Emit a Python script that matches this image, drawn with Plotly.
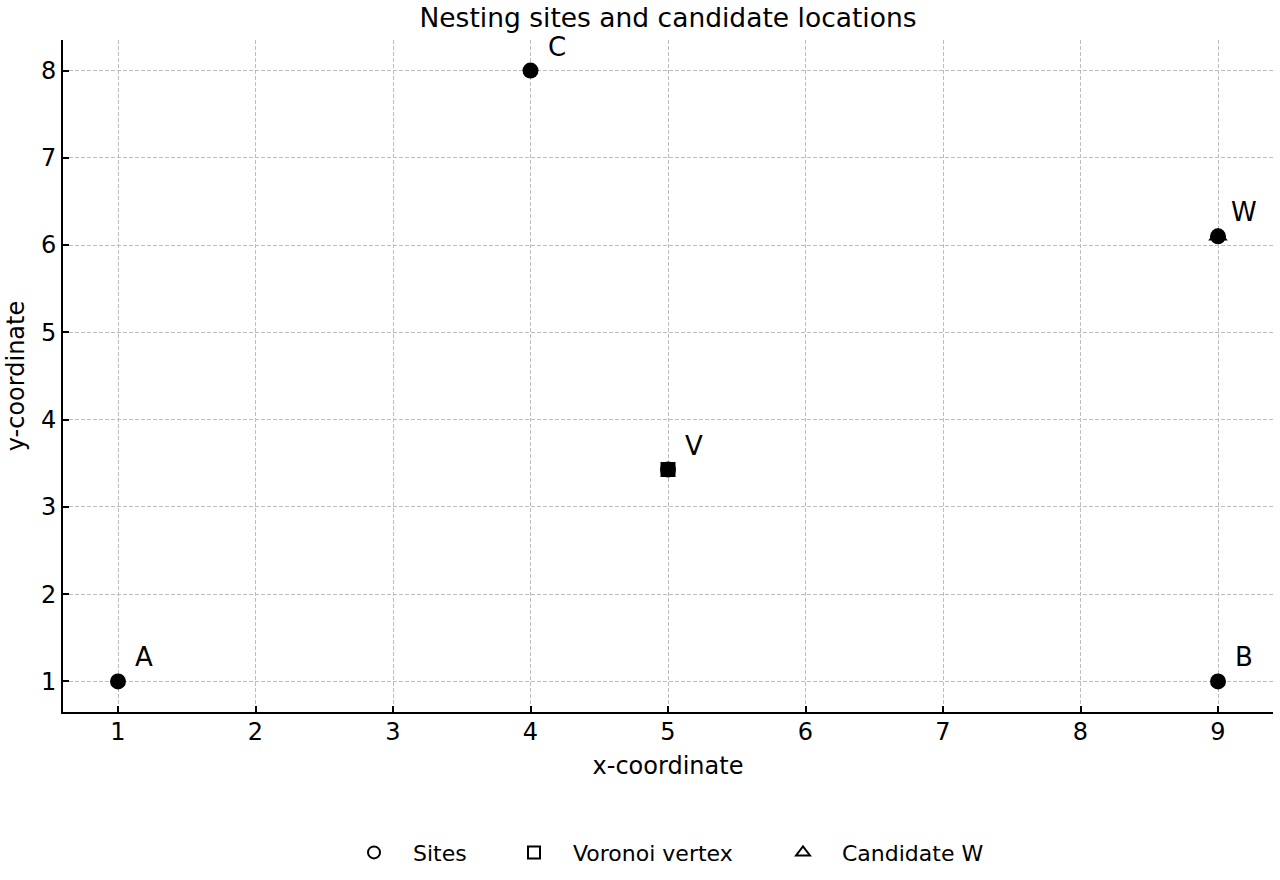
import plotly.graph_objects as go

site_names = ["A", "B", "C"]
site_x = [1, 9, 4]
site_y = [1, 1, 8]
vertex_name = ["V"]
vertex_x = [5]
vertex_y = [24 / 7]
cand_name = ["W"]
cand_x = [9]
cand_y = [6.1]

legend_labels = ["Sites", "Voronoi vertex", "Candidate W"]
legend_symbols = ["circle-open", "square-open", "triangle-up-open"]

FONT = "DejaVu Sans"
fig = go.Figure()

# data marks (filled black)
fig.add_trace(go.Scatter(x=cand_x, y=cand_y, mode="markers", showlegend=False,
                         marker=dict(symbol="triangle-up", size=17, color="black")))
fig.add_trace(go.Scatter(x=site_x + vertex_x + cand_x, y=site_y + vertex_y + cand_y,
                         mode="markers", showlegend=False,
                         marker=dict(symbol="circle", size=16, color="black")))
fig.add_trace(go.Scatter(x=vertex_x, y=vertex_y, mode="markers", showlegend=False,
                         marker=dict(symbol="square", size=15, color="black")))

# legend entries (open markers), each in its own legend box
legend_x = [373, 533, 802]
legend_keys = ["legend", "legend2", "legend3"]
for name, sym, key in zip(legend_labels, legend_symbols, legend_keys):
    fig.add_trace(go.Scatter(x=[None], y=[None], mode="markers", name=name, legend=key,
                             marker=dict(symbol=sym, size=12, color="black",
                                         line=dict(width=2, color="black"))))

for nm, xx, yy in zip(site_names + vertex_name + cand_name,
                      site_x + vertex_x + cand_x, site_y + vertex_y + cand_y):
    fig.add_annotation(x=xx, y=yy, text=nm, showarrow=False, xshift=26, yshift=24,
                       font=dict(family=FONT, size=26, color="black"))

axis_common = dict(showgrid=True, gridcolor="#bdbdbd", griddash="4px,2px", gridwidth=1,
                   showline=True, linecolor="black", linewidth=2, mirror=False,
                   ticks="inside", ticklen=6, tickwidth=2, tickcolor="black",
                   zeroline=False, tickfont=dict(family=FONT, size=24, color="black"),
                   title_font=dict(family=FONT, size=24, color="black"))

fig.update_xaxes(range=[0.6, 9.4], tickvals=list(range(1, 10)),
                 ticklabelstandoff=-3,
                 title_text="x-coordinate", title_standoff=12, **axis_common)
fig.update_yaxes(range=[0.65, 8.35], tickvals=list(range(1, 9)),
                 title_text="y-coordinate", title_standoff=10, **axis_common)

W, H = 1280, 880
ML, MR, MT, MB = 63, 7, 40, 166
pw = W - ML - MR
ph = H - MT - MB
leg_common = dict(orientation="h", yanchor="middle", xanchor="left",
                  y=(H - MB - 855) / ph, bgcolor="rgba(0,0,0,0)",
                  font=dict(family=FONT, size=22, color="black"),
                  itemwidth=68)
layout_legends = {}
for key, px in zip(legend_keys, legend_x):
    layout_legends[key] = dict(leg_common, x=(px - 38 - ML) / pw)

fig.update_layout(
    width=W, height=H,
    margin=dict(l=ML, r=MR, t=MT, b=MB),
    plot_bgcolor="white", paper_bgcolor="white",
    title=dict(text="Nesting sites and candidate locations", x=0.5, xref="paper",
               xanchor="center", y=1 - 18 / H, yanchor="middle",
               font=dict(family=FONT, size=26.5, color="black")),
    showlegend=True,
    **layout_legends,
)

fig.write_html("out.html")
